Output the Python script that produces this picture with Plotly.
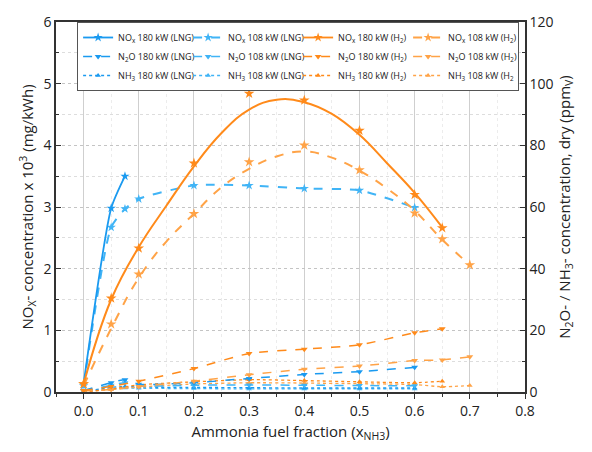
import plotly.graph_objects as go

# ---------------- data ----------------
# NOx (left axis, mg/kWh x 10^3)
x_nox180_lng = [0.0, 0.05, 0.075]
nox180_lng = [0.13, 2.98, 3.5]
x_nox108_lng = [0.0, 0.05, 0.075, 0.1, 0.2, 0.3, 0.4, 0.5, 0.6]
nox108_lng = [0.1, 2.67, 2.97, 3.13, 3.35, 3.35, 3.3, 3.27, 2.99]

x_nox180_h2 = [0.0, 0.05, 0.1, 0.2, 0.3, 0.4, 0.5, 0.6, 0.65]
nox180_h2 = [0.13, 1.52, 2.33, 3.71, 4.84, 4.73, 4.24, 3.2, 2.66]
x_nox108_h2 = [0.0, 0.05, 0.1, 0.2, 0.3, 0.4, 0.5, 0.6, 0.65, 0.7]
nox108_h2 = [0.13, 1.1, 1.91, 2.89, 3.73, 4.0, 3.6, 2.9, 2.48, 2.06]

# trend curves of the H2 NOx series
x_fit180 = [0.0, 0.05, 0.1, 0.15, 0.2, 0.25, 0.3, 0.35, 0.4, 0.45, 0.5, 0.55, 0.6, 0.65]
fit180 = [0.13, 1.5, 2.35, 3.02, 3.66, 4.2, 4.58, 4.74, 4.7, 4.51, 4.17, 3.71, 3.23, 2.67]
x_fit108 = [0.0, 0.05, 0.1, 0.15, 0.2, 0.25, 0.3, 0.35, 0.4, 0.45, 0.5, 0.55, 0.6, 0.65, 0.7]
fit108 = [0.1, 1.03, 1.85, 2.44, 2.89, 3.32, 3.62, 3.82, 3.9, 3.8, 3.59, 3.3, 2.94, 2.47, 2.06]

# N2O / NH3 (right axis, ppmV)
x_lng = [0.0, 0.05, 0.075, 0.1, 0.2, 0.3, 0.4, 0.5, 0.6]
n2o180_lng = [0.5, 3.0, 4.0, 2.5, 3.0, 4.4, 5.7, 6.6, 8.0]
n2o108_lng = [0.3, 2.2, 3.0, 2.0, 2.2, 2.3, 2.2, 2.1, 2.0]
nh3180_lng = [0.2, 1.5, 1.8, 1.6, 1.5, 1.4, 1.3, 1.3, 1.3]
nh3108_lng = [0.1, 1.0, 1.3, 1.2, 1.1, 1.0, 1.0, 1.0, 1.0]

x_h2_180 = [0.0, 0.05, 0.1, 0.2, 0.3, 0.4, 0.5, 0.6, 0.65]
n2o180_h2 = [0.5, 1.8, 3.5, 7.6, 12.5, 13.9, 15.3, 19.2, 20.5]
nh3180_h2 = [0.0, 1.0, 2.3, 3.3, 4.0, 3.7, 3.3, 3.0, 3.5]
x_h2_108 = [0.0, 0.05, 0.1, 0.2, 0.3, 0.4, 0.5, 0.6, 0.65, 0.7]
n2o108_h2 = [0.3, 0.8, 1.8, 3.5, 5.6, 7.4, 8.4, 10.2, 10.4, 11.4]
nh3108_h2 = [0.0, 0.8, 1.6, 2.6, 3.0, 2.9, 2.7, 2.4, 1.7, 2.1]

# ---------------- styles ----------------
C_LNG180 = "#1a9af0"
C_LNG108 = "#40b4f6"
C_H2180 = "#ff8a1a"
C_H2108 = "#ffa347"

fig = go.Figure()


def add(x, y, name, color, dash, symbol, axis="y", rank=0, size=7, width=1.6, show=True,
        mode="lines+markers", smoothing=0.6):
    fig.add_trace(go.Scatter(
        x=x, y=y, name=name, mode=mode, yaxis=axis,
        line=dict(color=color, dash=dash, width=width, shape="spline", smoothing=smoothing),
        marker=dict(symbol=symbol, size=size, color=color),
        showlegend=show, legendrank=rank,
    ))


# background series first (N2O / NH3, right axis)
add(x_lng, nh3108_lng, "NH<sub>3</sub> 108 kW (LNG)", C_LNG108, "dot", "triangle-up", "y2", 10, 5, 1.3)
add(x_lng, nh3180_lng, "NH<sub>3</sub> 180 kW (LNG)", C_LNG180, "dot", "triangle-up", "y2", 9, 5, 1.3)
add(x_h2_108, nh3108_h2, "NH<sub>3</sub> 108 kW (H<sub>2</sub>", C_H2108, "dot", "triangle-up", "y2", 12, 5, 1.3)
add(x_h2_180, nh3180_h2, "NH<sub>3</sub> 180 kW (H<sub>2</sub>)", C_H2180, "dot", "triangle-up", "y2", 11, 5, 1.3)
add(x_lng, n2o108_lng, "N<sub>2</sub>O 108 kW (LNG)", C_LNG108, "dash", "triangle-down", "y2", 6, 6, 1.5)
add(x_lng, n2o180_lng, "N<sub>2</sub>O 180 kW (LNG)", C_LNG180, "dash", "triangle-down", "y2", 5, 6, 1.5)
add(x_h2_108, n2o108_h2, "N<sub>2</sub>O 108 kW (H<sub>2</sub>)", C_H2108, "dash", "triangle-down", "y2", 8, 6, 1.5)
add(x_h2_180, n2o180_h2, "N<sub>2</sub>O 180 kW (H<sub>2</sub>)", C_H2180, "dash", "triangle-down", "y2", 7, 6, 1.5)

# NOx, left axis
add(x_nox108_lng, nox108_lng, "NO<sub>x</sub> 108 kW (LNG)", C_LNG108, "dash", "star", "y", 2, 7, 2.0)
add(x_nox180_lng, nox180_lng, "NO<sub>x</sub> 180 kW (LNG)", C_LNG180, "solid", "star", "y", 1, 7, 1.8)

# H2 NOx: trend curves + measured points, legend entry via empty traces
add(x_fit108, fit108, "", C_H2108, "dash", "star", "y", 0, 7, 2.0, show=False, mode="lines", smoothing=1.2)
add(x_nox108_h2, nox108_h2, "", C_H2108, "dash", "star", "y", 0, 8, 2.0, show=False, mode="markers")
add(x_fit180, fit180, "", C_H2180, "solid", "star", "y", 0, 7, 2.0, show=False, mode="lines", smoothing=1.2)
add(x_nox180_h2, nox180_h2, "", C_H2180, "solid", "star", "y", 0, 8, 2.0, show=False, mode="markers")
add([None], [None], "NO<sub>x</sub> 180 kW (H<sub>2</sub>)", C_H2180, "solid", "star", "y", 3, 7, 1.8)
add([None], [None], "NO<sub>x</sub> 108 kW (H<sub>2</sub>)", C_H2108, "dash", "star", "y", 4, 7, 1.8)

FONT = "Open Sans"
AX = "#333333"

fig.update_layout(
    width=592, height=452,
    margin=dict(l=56, r=67, t=15, b=60),
    paper_bgcolor="white", plot_bgcolor="white",
    font=dict(family=FONT, size=14, color="#222"),
    showlegend=True,
    legend=dict(
        orientation="h", x=0.045, y=1.0, xanchor="left", yanchor="top",
        bgcolor="white", bordercolor="#555", borderwidth=1,
        font=dict(size=9, family=FONT, color="#222"),
        entrywidth=65, entrywidthmode="pixels",
        traceorder="normal", tracegroupgap=0, itemwidth=30,
    ),
    xaxis=dict(
        range=[-0.05, 0.8], dtick=0.1, tick0=0, tickformat=".1f",
        showline=True, linecolor=AX, linewidth=1.5, mirror=True,
        ticks="outside", ticklen=5, tickcolor=AX, tickwidth=1.2,
        showgrid=True, gridcolor="#cfcfcf", gridwidth=1,
        zeroline=False,
        minor=dict(dtick=0.05, tick0=0, ticks="outside", ticklen=3, tickcolor=AX,
                   showgrid=True, gridcolor="#ececec", griddash="dot"),
        title=dict(text="Ammonia fuel fraction (x<sub>NH3</sub>)", font=dict(size=15), standoff=8),
        tickfont=dict(size=14),
    ),
    yaxis=dict(
        range=[0, 6], dtick=1,
        showline=True, linecolor=AX, linewidth=1.5,
        ticks="inside", ticklen=5, tickcolor=AX, tickwidth=1.2,
        showgrid=True, gridcolor="#c4c4c4", griddash="dot", gridwidth=1,
        zeroline=False,
        minor=dict(dtick=0.5, ticks="inside", ticklen=3, tickcolor=AX,
                   showgrid=True, gridcolor="#dddddd", griddash="dot"),
        title=dict(text="NO<sub>X</sub>- concentration x 10<sup>3</sup> (mg/kWh)", font=dict(size=15), standoff=6),
        tickfont=dict(size=14),
    ),
    yaxis2=dict(
        range=[0, 120], dtick=20, overlaying="y", side="right",
        showline=True, linecolor=AX, linewidth=1.5,
        ticks="inside", ticklen=5, tickcolor=AX, tickwidth=1.2,
        showgrid=False, zeroline=False,
        minor=dict(dtick=10, ticks="inside", ticklen=3, tickcolor=AX),
        title=dict(text="N<sub>2</sub>O- / NH<sub>3</sub>- concentration, dry (ppm<sub>V</sub>)", font=dict(size=15), standoff=6),
        tickfont=dict(size=14),
    ),
)

fig.write_html("out.html")
